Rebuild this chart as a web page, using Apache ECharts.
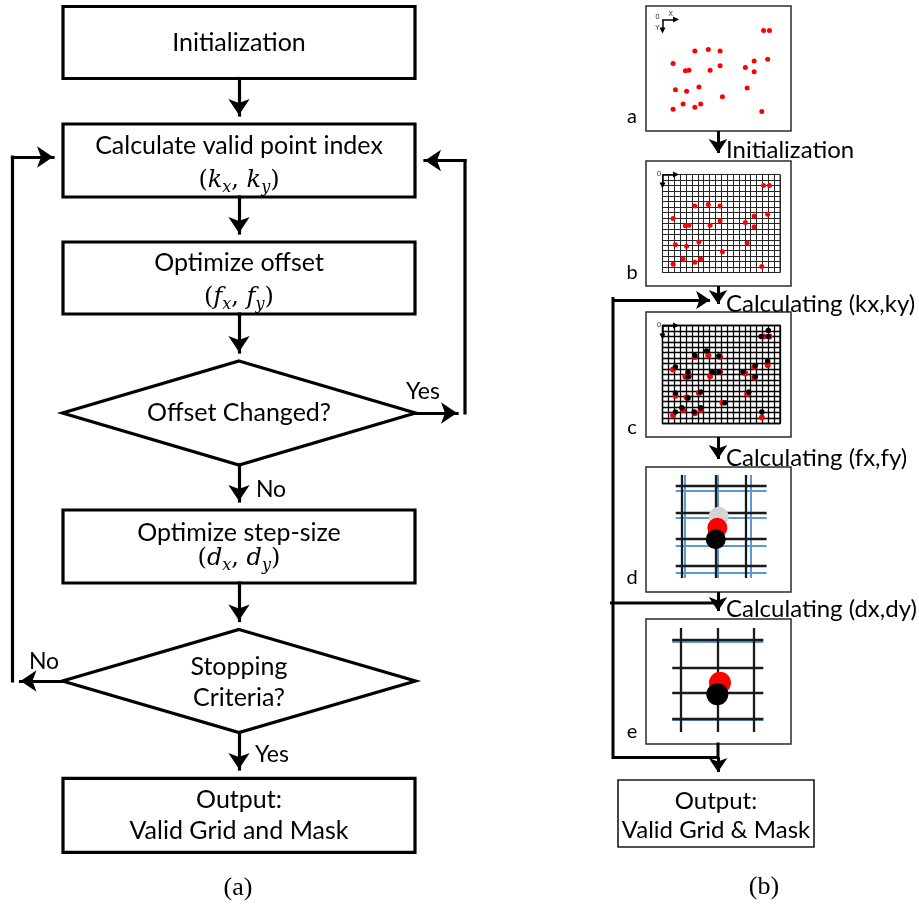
<!DOCTYPE html>
<html>
<head>
<meta charset="utf-8">
<title>Grid fitting flowchart</title>
<script src="https://cdn.jsdelivr.net/npm/echarts@6.0.0/dist/echarts.min.js"></script>
<style>
    html, body { margin: 0; padding: 0; background: #ffffff; }
    #chart { width: 919px; height: 905px; }
</style>
</head>
<body>
<div id="chart"></div>
<script>
// ---- (a) flowchart text ----
const stepTitles = [
    "Initialization",
    "Calculate valid point index",
    "Optimize offset",
    "Offset Changed?",
    "Optimize step-size",
    "Stopping\nCriteria?",
    "Output:\nValid Grid and Mask"
];
const stepVars = [null, "k", "f", null, "d", null, null];
const stepShapes = ["box", "box", "box", "diamond", "box", "diamond", "box"];
const branchLabels = ["Yes", "No", "No", "Yes"];

// ---- (b) text ----
const panelLetters = ["a", "b", "c", "d", "e"];
const stageLabels = ["Initialization", "Calculating (kx,ky)", "Calculating (fx,fy)", "Calculating (dx,dy)"];
const outputLabel = "Output:\nValid Grid & Mask";
const captions = ["(a)", "(b)"];
const axisMarks = ["0", "X", "Y"];

// detected points (panels a-c), in mesh cells, y pointing down
const pointX = [17.2, 18.2, 5.5, 7.8, 9.8, 1.8, 15.6, 17.9, 3.9, 4.5, 8.1, 9.8,
                14.1, 15.6, 2.2, 4.1, 6.2, 14.4, 10.2, 1.8, 3.5, 5.5, 6.5, 16.9];
const pointY = [2.0, 2.0, 5.8, 5.5, 5.8, 8.1, 7.6, 7.3, 9.4, 9.3, 9.3, 8.5,
                8.8, 9.6, 12.9, 13.2, 12.4, 12.6, 14.2, 16.5, 15.5, 16.1, 15.5, 16.9];
// points moved onto grid nodes (panel c)
const snapX = [18.0, 16.8, 18.0, 7.5, 5.5, 9.6, 2.2, 15.8, 17.9, 4.35, 4.35, 8.5, 9.6,
               13.7, 15.8, 2.2, 4.35, 6.5, 14.7, 10.6, 2.2, 3.3, 5.4, 6.5, 16.9];
const snapY = [0.9, 2.0, 2.0, 4.7, 5.5, 5.6, 7.6, 7.4, 6.5, 8.6, 9.4, 8.6, 8.5,
               8.5, 9.4, 12.4, 13.3, 12.2, 12.2, 14.2, 15.9, 15.1, 15.9, 15.1, 15.9];
const meshCols = 20;
const meshRows = 18;

// panel d (percent of panel)
const dBlackX = [24.6, 48.3, 69.0];
const dBlackY = [15.0, 36.2, 57.0, 79.2];
const dBlueX = [26.4, 49.4, 72.4];
const dBlueY = [18.6, 40.2, 63.0, 84.2];
const dDotX = [50.1, 49.2, 48.1];
const dDotY = [39.8, 48.6, 57.8];

// panel e (percent of panel)
const eBlackX = [24.1, 49.2, 74.0];
const eBlackY = [16.2, 39.0, 59.0, 79.4];
const eBlueY = [17.6, 80.4];
const eDotX = [51.0, 49.2];
const eDotY = [51.0, 60.2];

// ---- layout ----
const FONT = "Lato";
const MATH_FONT = "DejaVu Serif";
const FLOW_X = 239;
const nodeLayout = [
    { cy: 42.5, w: 352, h: 72, dy: [0] },
    { cy: 160.5, w: 352, h: 73, dy: [-15, 20.5] },
    { cy: 278, w: 352, h: 72, dy: [-15, 20] },
    { cy: 413, w: 353, h: 104, dy: [0] },
    { cy: 546.5, w: 352, h: 73, dy: [-14, 12] },
    { cy: 681, w: 353, h: 103, dy: [1] },
    { cy: 815.3, w: 352, h: 74, dy: [0] }
];
const flowArrows = [
    [[239, 78.5], [239, 123]],
    [[239, 197], [239, 241]],
    [[239, 314], [239, 360]],
    [[239, 465], [239, 509]],
    [[239, 583], [239, 628.5]],
    [[239, 732.5], [239, 777]],
    [[415, 413], [465, 413]],
    [[465, 413], [465, 160.5], [417, 160.5]],
    [[63, 681], [12.5, 681]],
    [[12.5, 681], [12.5, 157], [61, 157]]
];
const branchPos = [[423, 392], [271, 490], [44, 662], [272, 755]];
const captionPos = [[238, 888], [764, 887]];

const PANEL_LEFT = 646, PANEL_W = 145, PANEL_H = 125;
const panelTops = [6, 161, 312, 467, 619];
const MESH_DX = 16.5, MESH_DY = 13.5, MESH_W = 117.5, MESH_H = 98;
const stageArrows = [
    [[718, 131], [718, 160]],
    [[718, 286], [718, 311]],
    [[613, 300], [717, 300]],
    [[718, 437], [718, 466]],
    [[718, 592], [718, 618]],
    [[718, 757.5], [718, 779]]
];
const stageLines = [
    [[718, 744], [718, 757.5], [613, 757.5], [613, 298.5]],
    [[611.5, 603], [718, 603]]
];
const stagePos = [[726, 150], [726, 304], [726, 458], [726, 609]];
const letterPos = [[632, 117], [632, 273], [632, 428], [632, 578], [632, 732]];
const outputBox = { cx: 716, cy: 813.5, w: 196, h: 67 };

const chart = echarts.init(document.getElementById("chart"));

function mathLabel(v) {
    return `{p|(}{i|${v}}{s|x}{p|, }{i|${v}}{s|y}{p|)}`;
}

const mathRich = {
    p: { fontFamily: MATH_FONT, fontSize: 24, lineHeight: 30, fill: "#000" },
    i: { fontFamily: MATH_FONT, fontSize: 24, fontStyle: "italic", lineHeight: 30, fill: "#000" },
    s: { fontFamily: MATH_FONT, fontSize: 16, fontStyle: "italic", lineHeight: 16, verticalAlign: "bottom", fill: "#000" }
};

function nodeShape(shape, c, s) {
    if (shape === "box") {
        return { type: "rect", shape: { x: c[0] - s[0] / 2, y: c[1] - s[1] / 2, width: s[0], height: s[1] } };
    }
    return {
        type: "polygon",
        shape: {
            points: [
                [c[0], c[1] - s[1] / 2],
                [c[0] + s[0] / 2, c[1]],
                [c[0], c[1] + s[1] / 2],
                [c[0] - s[0] / 2, c[1]]
            ]
        }
    };
}

function renderNode(params, api) {
    const i = api.value(2);
    const lay = nodeLayout[i];
    const c = api.coord([api.value(0), api.value(1)]);
    const s = api.size([lay.w, lay.h]);
    const outline = nodeShape(stepShapes[i], c, s);
    outline.style = { fill: "#fff", stroke: "#000", lineWidth: 3.2 };
    const children = [outline, {
        type: "text",
        style: {
            text: stepTitles[i], x: c[0], y: c[1] + lay.dy[0],
            align: "center", verticalAlign: "middle",
            fontFamily: FONT, fontSize: 25, lineHeight: 31, fill: "#000"
        }
    }];
    if (stepVars[i]) {
        children.push({
            type: "text",
            style: {
                text: mathLabel(stepVars[i]), x: c[0], y: c[1] + lay.dy[1],
                align: "center", verticalAlign: "middle",
                fontFamily: MATH_FONT, fontSize: 24, rich: mathRich
            }
        });
    }
    return { type: "group", children };
}

function textSeries(texts, coords, style) {
    return {
        type: "custom",
        coordinateSystem: "cartesian2d",
        xAxisIndex: 0,
        yAxisIndex: 0,
        silent: true,
        z: 6,
        encode: { x: 0, y: 1 },
        data: coords.map((c, i) => [c[0], c[1], i]),
        renderItem: (params, api) => {
            const p = api.coord([api.value(0), api.value(1)]);
            return {
                type: "text",
                style: Object.assign({
                    text: texts[api.value(2)], x: p[0], y: p[1],
                    align: "center", verticalAlign: "middle", fill: "#000"
                }, style)
            };
        }
    };
}

// split a path into its plain part and the last segment that carries the arrow head
function splitArrows(paths, headLen) {
    const plain = [];
    const heads = [];
    paths.forEach(points => {
        const n = points.length;
        if (n > 2) {
            plain.push({ coords: points.slice(0, n - 1) });
        }
        const a = points[n - 2];
        const b = points[n - 1];
        const dx = b[0] - a[0];
        const dy = b[1] - a[1];
        const len = Math.hypot(dx, dy);
        heads.push({
            coords: [a.slice(), [b[0] - dx / len * headLen / 2, b[1] - dy / len * headLen / 2]]
        });
    });
    return { plain, heads };
}

function lineSeries(data, opts) {
    return Object.assign({
        type: "lines",
        coordinateSystem: "cartesian2d",
        xAxisIndex: 0,
        yAxisIndex: 0,
        polyline: false,
        silent: true,
        clip: false,
        z: 4,
        symbol: "none",
        lineStyle: { color: "#000", width: 3.2, opacity: 1, cap: "square", join: "miter" },
        data
    }, opts);
}

function vLines(xs, span) {
    return xs.map(x => ({ coords: [[x, span[0]], [x, span[1]]] }));
}

function hLines(ys, span) {
    return ys.map(y => ({ coords: [[span[0], y], [span[1], y]] }));
}

// ---- grids: 0 page, 1-5 panels a-e, 6-8 point meshes a-c ----
const grids = [{ left: 0, top: 0, width: 919, height: 905 }];
const xAxes = [{ gridIndex: 0, type: "value", min: 0, max: 919, show: false }];
const yAxes = [{ gridIndex: 0, type: "value", min: 0, max: 905, inverse: true, show: false }];

panelTops.forEach(top => {
    grids.push({
        left: PANEL_LEFT, top: top, width: PANEL_W, height: PANEL_H,
        show: true, borderColor: "#2b2b2b", borderWidth: 1.5
    });
    xAxes.push({ gridIndex: grids.length - 1, type: "value", min: 0, max: 100, show: false });
    yAxes.push({ gridIndex: grids.length - 1, type: "value", min: 0, max: 100, inverse: true, show: false });
});

const meshStyles = [null, { color: "#262626", width: 1 }, { color: "#000", width: 1.3 }];
meshStyles.forEach((ls, k) => {
    grids.push({
        left: PANEL_LEFT + MESH_DX, top: panelTops[k] + MESH_DY, width: MESH_W, height: MESH_H,
        show: !!ls, borderColor: ls ? ls.color : "transparent", borderWidth: ls ? ls.width : 0
    });
    const common = {
        gridIndex: grids.length - 1,
        type: "value",
        interval: 1,
        axisLine: { show: false },
        axisTick: { show: false },
        axisLabel: { show: false },
        splitLine: { show: !!ls, lineStyle: ls || {} }
    };
    xAxes.push(Object.assign({ min: 0, max: meshCols }, common));
    yAxes.push(Object.assign({ min: 0, max: meshRows, inverse: true }, common));
});

const series = [];

// (a) flowchart
series.push({
    type: "custom",
    coordinateSystem: "cartesian2d",
    xAxisIndex: 0,
    yAxisIndex: 0,
    silent: true,
    z: 3,
    encode: { x: 0, y: 1 },
    data: nodeLayout.map((n, i) => [FLOW_X, n.cy, i]),
    renderItem: renderNode
});

const flow = splitArrows(flowArrows, 16);
series.push(lineSeries(flow.plain, { polyline: true }));
series.push(lineSeries(flow.heads, { symbol: ["none", "arrow"], symbolSize: [13, 16] }));
series.push(textSeries(branchLabels, branchPos, { fontFamily: FONT, fontSize: 23 }));
series.push(textSeries(captions, captionPos, { fontFamily: "Liberation Serif", fontSize: 26 }));

// (b) connectors and labels
const stages = splitArrows(stageArrows, 14);
series.push(lineSeries(stageLines, { polyline: true, lineStyle: { color: "#000", width: 3, opacity: 1, cap: "square" } }));
series.push(lineSeries(stages.heads, {
    symbol: ["none", "arrow"], symbolSize: [11, 14],
    lineStyle: { color: "#000", width: 3, opacity: 1 }
}));
series.push(textSeries(stageLabels, stagePos, { fontFamily: FONT, fontSize: 24, align: "left" }));
series.push(textSeries(panelLetters, letterPos, { fontFamily: FONT, fontSize: 20 }));

series.push({
    type: "custom",
    coordinateSystem: "cartesian2d",
    xAxisIndex: 0,
    yAxisIndex: 0,
    silent: true,
    z: 3,
    encode: { x: 0, y: 1 },
    data: [[outputBox.cx, outputBox.cy]],
    renderItem: (params, api) => {
        const c = api.coord([api.value(0), api.value(1)]);
        const s = api.size([outputBox.w, outputBox.h]);
        const rect = nodeShape("box", c, s);
        rect.style = { fill: "#fff", stroke: "#1a1a1a", lineWidth: 1.6 };
        return {
            type: "group",
            children: [rect, {
                type: "text",
                style: {
                    text: outputLabel, x: c[0], y: c[1] + 2,
                    align: "center", verticalAlign: "middle",
                    fontFamily: FONT, fontSize: 24, lineHeight: 29, fill: "#000"
                }
            }]
        };
    }
});

// panels a-c: points on the mesh
[6, 7, 8].forEach((g, k) => {
    series.push({
        type: "lines",
        coordinateSystem: "cartesian2d",
        xAxisIndex: g,
        yAxisIndex: g,
        silent: true,
        clip: false,
        z: 5,
        symbol: ["none", "triangle"],
        symbolSize: 6,
        lineStyle: { color: "#000", width: 1.5, opacity: 1 },
        data: [
            { coords: [[0, 0], [2.3, 0]] },
            { coords: [[0, 0], [0, 2.0]] }
        ]
    });
    const marks = k === 0
        ? [{ name: axisMarks[0], value: [-0.85, -0.35] }, { name: axisMarks[1], value: [1.4, -0.9] }, { name: axisMarks[2], value: [-0.85, 1.6] }]
        : [{ name: axisMarks[0], value: [-0.6, 0] }];
    series.push({
        type: "scatter",
        xAxisIndex: g,
        yAxisIndex: g,
        silent: true,
        clip: false,
        symbolSize: 0,
        z: 5,
        label: { show: true, position: "inside", formatter: "{b}", fontSize: 7, color: "#000", fontFamily: "DejaVu Sans" },
        data: marks
    });
    series.push({
        type: "scatter",
        xAxisIndex: g,
        yAxisIndex: g,
        silent: true,
        symbolSize: k === 2 ? 6 : 5,
        itemStyle: { color: "#ff0000", opacity: 1 },
        z: 6,
        data: pointX.map((x, i) => [x, pointY[i]])
    });
});

series.push({
    type: "scatter",
    xAxisIndex: 8,
    yAxisIndex: 8,
    silent: true,
    symbolSize: 5.5,
    itemStyle: { color: "#000", opacity: 1 },
    z: 7,
    data: snapX.map((x, i) => [x, snapY[i]])
});

// panel d: coarse grid before and after the offset step
const blueStyle = { color: "#5b9bd5", width: 2, opacity: 1 };
const blackStyle = { color: "#1a1a1a", width: 2.3, opacity: 1 };
series.push(lineSeries(vLines(dBlueX, [6.4, 88.8]).concat(hLines(dBlueY, [20.5, 83.2])),
    { xAxisIndex: 4, yAxisIndex: 4, z: 4, lineStyle: blueStyle }));
series.push(lineSeries(vLines(dBlackX, [6.4, 88.8]).concat(hLines(dBlackY, [20.5, 83.2])),
    { xAxisIndex: 4, yAxisIndex: 4, z: 5, lineStyle: blackStyle }));
const dDotColors = ["#d4d4d4", "#ff0000", "#000000"];
series.push({
    type: "scatter",
    xAxisIndex: 4,
    yAxisIndex: 4,
    silent: true,
    symbolSize: 20,
    z: 6,
    data: dDotX.map((x, i) => ({ value: [x, dDotY[i]], itemStyle: { color: dDotColors[i], opacity: 1 } }))
});

// panel e: grid after the step-size step
series.push(lineSeries(hLines(eBlueY, [18.1, 80.9]),
    { xAxisIndex: 5, yAxisIndex: 5, z: 4, lineStyle: { color: "#5b9bd5", width: 3, opacity: 1 } }));
series.push(lineSeries(vLines(eBlackX, [7.2, 90.4]).concat(hLines(eBlackY, [18.1, 80.9])),
    { xAxisIndex: 5, yAxisIndex: 5, z: 5, lineStyle: blackStyle }));
const eDotColors = ["#ff0000", "#000000"];
series.push({
    type: "scatter",
    xAxisIndex: 5,
    yAxisIndex: 5,
    silent: true,
    symbolSize: 22,
    z: 6,
    data: eDotX.map((x, i) => ({ value: [x, eDotY[i]], itemStyle: { color: eDotColors[i], opacity: 1 } }))
});

chart.setOption({
    animation: false,
    backgroundColor: "#ffffff",
    grid: grids,
    xAxis: xAxes,
    yAxis: yAxes,
    series: series
});
</script>
</body>
</html>
